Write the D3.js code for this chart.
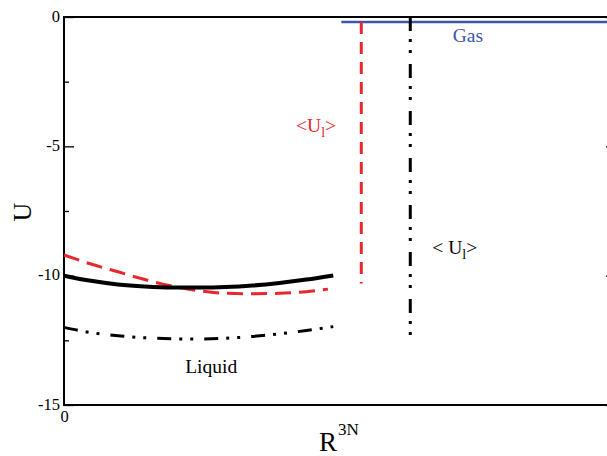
<!DOCTYPE html>
<html>
<head>
<meta charset="utf-8">
<script src="https://cdn.jsdelivr.net/npm/d3@7"></script>
<style>
  body { margin: 0; background: #fff; }
  svg { font-family: "Liberation Serif", "DejaVu Serif", serif; }
</style>
</head>
<body>
<svg id="chart" width="607" height="456"></svg>
<script>
// curvas da fase liquida (x em unidades arbitrarias de R^3N)
var liquidX   = [0, 0.1, 0.2, 0.3, 0.4, 0.5, 0.6, 0.7, 0.8, 0.9, 1.0];
var uSolid    = [-10.0, -10.2, -10.34, -10.42, -10.46, -10.46, -10.44, -10.38, -10.28, -10.15, -9.99];
var dashedX   = [0, 0.1, 0.2, 0.3, 0.4, 0.5, 0.6, 0.7, 0.8, 0.9, 0.98];
var uDashed   = [-9.2, -9.55, -9.85, -10.15, -10.4, -10.58, -10.68, -10.7, -10.68, -10.62, -10.52];
var uDashDot  = [-12.0, -12.2, -12.32, -12.4, -12.44, -12.45, -12.42, -12.35, -12.25, -12.12, -11.97];

// linhas verticais e linha do gas
var redVertX = 1.104, redVertU = [-0.19, -10.3];
var blkVertX = 1.286, blkVertU = [0, -12.3];
var gasX = [1.03, 2.05], gasU = -0.19;

// ticks
var yMajor = [0, -5, -10, -15];
var yMinor = [-2.5, -7.5, -12.5];
var xTicks = [0];

// rotulos
var labels = [
  {text: "Gas", sub: "", x: 1.50, u: -0.95, color: "#3d57a6", anchor: "middle"},
  {text: "<U", sub: "l", end: ">", x: 0.862, u: -4.45, color: "#e8262d", anchor: "start"},
  {text: "< U", sub: "l", end: ">", x: 1.368, u: -9.16, color: "#000", anchor: "start"},
  {text: "Liquid", sub: "", x: 0.45, u: -13.76, color: "#000", anchor: "start"}
];

var margin = {left: 64, top: 17, right: -9, bottom: 51};
var width = 607, height = 456;

var svg = d3.select("#chart");

var x = d3.scaleLinear().domain([0, 2.05]).range([margin.left, width - margin.right]);
var y = d3.scaleLinear().domain([0, -15]).range([margin.top, height - margin.bottom]);

var plain = function(d) { return String(d); };

// eixos
var yAxisG = svg.append("g")
  .attr("transform", "translate(" + margin.left + ",0)")
  .call(d3.axisLeft(y).tickValues(yMajor).tickSizeInner(-10).tickSizeOuter(0).tickPadding(4).tickFormat(plain));
svg.append("g")
  .attr("transform", "translate(" + margin.left + ",0)")
  .call(d3.axisLeft(y).tickValues(yMinor).tickSizeInner(-5).tickSizeOuter(0).tickFormat(""));
svg.append("g")
  .attr("transform", "translate(" + x.range()[1] + ",0)")
  .call(d3.axisRight(y).tickValues(yMajor).tickSizeInner(-10).tickSizeOuter(0).tickFormat(""));
svg.append("g")
  .attr("transform", "translate(" + x.range()[1] + ",0)")
  .call(d3.axisRight(y).tickValues(yMinor).tickSizeInner(-5).tickSizeOuter(0).tickFormat(""));
var xAxisG = svg.append("g")
  .attr("transform", "translate(0," + y.range()[1] + ")")
  .call(d3.axisBottom(x).tickValues(xTicks).tickSize(0).tickPadding(5).tickFormat(plain));

svg.selectAll(".domain").remove();
svg.selectAll(".tick line").attr("stroke", "#000").attr("stroke-width", 1.3);
svg.selectAll(".tick text")
  .attr("font-family", "Liberation Serif")
  .attr("font-size", 16.5)
  .attr("fill", "#000");
yAxisG.selectAll(".tick text").attr("dy", "0.25em");

// moldura
svg.append("rect")
  .attr("x", x.range()[0])
  .attr("y", y.range()[0])
  .attr("width", x.range()[1] - x.range()[0])
  .attr("height", y.range()[1] - y.range()[0])
  .attr("fill", "none")
  .attr("stroke", "#000")
  .attr("stroke-width", 2);

var line = d3.line()
  .x(function(d) { return x(d[0]); })
  .y(function(d) { return y(d[1]); })
  .curve(d3.curveMonotoneX);

var dashDot = "14,8,3,8,3,11";

svg.append("path")
  .datum(d3.zip(liquidX, uDashDot))
  .attr("d", line)
  .attr("fill", "none").attr("stroke", "#000")
  .attr("stroke-width", 3).attr("stroke-dasharray", dashDot);

svg.append("path")
  .datum(d3.zip(dashedX, uDashed))
  .attr("d", line)
  .attr("fill", "none").attr("stroke", "#e8262d")
  .attr("stroke-width", 3).attr("stroke-dasharray", "16,8");

svg.append("path")
  .datum(d3.zip(liquidX, uSolid))
  .attr("d", line)
  .attr("fill", "none").attr("stroke", "#000")
  .attr("stroke-width", 4);

// linha do gas
svg.append("line")
  .attr("x1", x(gasX[0])).attr("x2", x(gasX[1]))
  .attr("y1", y(gasU)).attr("y2", y(gasU))
  .attr("stroke", "#3d57a6").attr("stroke-width", 2.5);

// verticais
svg.append("line")
  .attr("x1", x(redVertX)).attr("x2", x(redVertX))
  .attr("y1", y(redVertU[0])).attr("y2", y(redVertU[1]))
  .attr("stroke", "#e8262d").attr("stroke-width", 3)
  .attr("stroke-dasharray", "12,8");

svg.append("line")
  .attr("x1", x(blkVertX)).attr("x2", x(blkVertX))
  .attr("y1", y(blkVertU[0])).attr("y2", y(blkVertU[1]))
  .attr("stroke", "#000").attr("stroke-width", 3)
  .attr("stroke-dasharray", dashDot);

// rotulos
labels.forEach(function(l) {
  var t = svg.append("text")
    .attr("x", x(l.x)).attr("y", y(l.u))
    .attr("fill", l.color)
    .attr("text-anchor", l.anchor)
    .attr("font-size", 19.5);
  t.append("tspan").text(l.text);
  if (l.sub) {
    t.append("tspan").attr("dy", 5).attr("font-size", 14).text(l.sub);
    t.append("tspan").attr("dy", -5).text(l.end);
  }
});

// titulos dos eixos
svg.append("text")
  .attr("transform", "translate(31,212) rotate(-90)")
  .attr("text-anchor", "middle")
  .attr("font-size", 26)
  .text("U");

var xt = svg.append("text")
  .attr("x", 319).attr("y", 451)
  .attr("font-size", 27);
xt.append("tspan").text("R");
xt.append("tspan").attr("dy", -16).attr("dx", 1).attr("font-size", 17).text("3N");
</script>
</body>
</html>
